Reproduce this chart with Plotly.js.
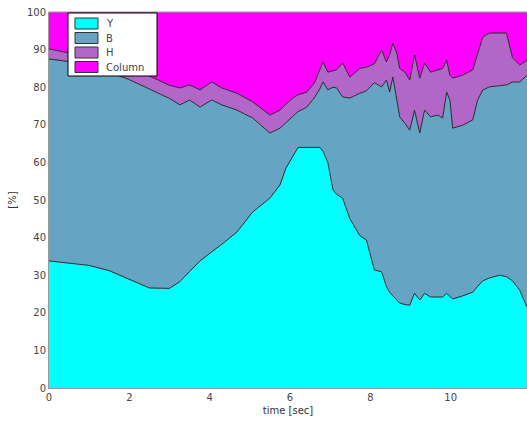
<!DOCTYPE html>
<html><head><meta charset="utf-8">
<script src="https://cdn.plot.ly/plotly-3.0.1.min.js"></script>
<style>html,body{margin:0;padding:0;background:#fff}#c{width:527px;height:430px}</style>
</head><body><div id="c"></div>
<script>
const time = [0,0.5,1.0,1.5,2.0,2.5,3.0,3.26,3.5,3.76,4.05,4.3,4.68,5.07,5.5,5.75,5.9,6.07,6.2,6.42,6.62,6.74,6.82,6.94,7.07,7.16,7.31,7.49,7.74,7.9,8.1,8.28,8.4,8.48,8.56,8.66,8.73,8.86,8.98,9.1,9.23,9.35,9.5,9.68,9.8,9.9,9.98,10.05,10.3,10.55,10.67,10.8,10.97,11.22,11.39,11.54,11.72,11.9];
const seriesY = [33.8,33.3,32.6,31.2,28.8,26.6,26.5,28.3,31.0,33.8,36.2,38.2,41.5,46.8,50.5,54.0,58.5,61.5,64.0,64.0,64.0,64.0,63.0,60.0,52.7,51.5,50.5,45.0,40.5,39.4,31.4,30.9,27.0,25.5,24.5,23.2,22.6,22.2,22.0,25.2,23.4,25.2,24.2,24.2,24.2,25.2,24.5,23.7,24.5,25.5,27.0,28.5,29.3,30.0,29.6,28.5,26.0,21.5];
const seriesB = [53.7,53.5,52.9,52.8,53.2,52.9,50.5,47.0,45.6,40.9,40.4,37.1,32.4,25.0,17.3,15.1,12.0,10.6,9.5,10.7,13.4,15.5,18.4,19.3,27.3,28.3,26.9,32.1,37.9,39.6,49.8,49.2,54.9,53.2,58.2,53.4,49.5,48.2,46.6,48.7,44.4,48.7,47.9,48.4,47.6,53.5,52.1,45.4,45.4,45.8,49.6,50.8,50.8,50.4,51.0,52.9,55.4,61.7];
const seriesH = [2.7,2.4,2.5,2.8,3.0,3.5,3.5,4.5,4.0,4.6,4.8,4.5,4.5,4.3,4.8,4.8,5.0,5.0,4.5,4.0,4.0,5.0,5.3,4.7,4.3,4.8,9.0,5.6,6.6,6.3,5.0,9.8,4.8,9.9,9.0,12.4,12.9,13.6,13.3,14.7,14.6,12.5,11.9,12.0,13.2,8.5,6.6,13.3,13.3,13.3,12.4,14.1,14.3,14.0,13.8,6.4,4.5,4.0];
const seriesColumn = [9.8,10.8,12.0,13.2,15.0,17.0,19.5,20.2,19.4,20.7,18.6,20.2,21.6,23.9,27.4,26.1,24.5,22.9,22.0,21.3,18.6,15.5,13.3,16.0,15.7,15.4,13.6,17.3,15.0,14.7,13.8,10.1,13.3,11.4,8.3,11.0,15.0,16.0,18.1,11.4,17.6,13.6,16.0,15.4,15.0,12.8,16.8,17.6,16.8,15.4,11.0,6.6,5.6,5.6,5.6,12.2,14.1,12.8];
const names = ['Y','B','H','Column'];
const colors = ['#00ffff','#66a4c4','#b266c8','#ff00ff'];
const vals = [seriesY, seriesB, seriesH, seriesColumn];

const traces = vals.map((v,i)=>({
  x: time, y: v, name: names[i], type:'scatter', mode:'lines',
  stackgroup:'one', fillcolor: colors[i], showlegend:false,
  line:{color: i===3 ? 'rgba(0,0,0,0)' : '#2a2a2a', width:1, shape:'linear'}
}));

// custom compact legend (pixel positions converted to paper coords)
const L=49, W=478, B0=388, H=376;
const px = p => (p-L)/W, py = p => (B0-p)/H;
const shapes = [
  {type:'line', xref:'paper', yref:'paper', x0:0, x1:1, y0:1, y1:1, line:{color:'#999', width:1}},
  {type:'rect', xref:'paper', yref:'paper', x0:px(68), x1:px(157), y0:py(76), y1:py(13), fillcolor:'#fff', line:{color:'#000', width:1}}
];
const annotations = [];
names.forEach((n,i)=>{
  const top = 18 + i*14.5;
  shapes.push({type:'rect', xref:'paper', yref:'paper', x0:px(75), x1:px(98), y0:py(top+11), y1:py(top),
    fillcolor:colors[i], line:{color:'#333', width:1}});
  annotations.push({xref:'paper', yref:'paper', x:px(104), y:py(top+5.5), xanchor:'left', yanchor:'middle',
    text:n, showarrow:false, font:{family:'DejaVu Sans, sans-serif', size:10, color:'#444'}});
});

const layout = {
  width:527, height:430,
  margin:{l:49, r:0, t:12, b:42},
  paper_bgcolor:'#fff', plot_bgcolor:'#fff',
  showlegend:false,
  xaxis:{range:[0,11.9], tickvals:[0,2,4,6,8,10], ticktext:['0','2','4','6','8','10'], showgrid:false, zeroline:false,
    showline:true, linecolor:'#999', ticks:'', tickfont:{family:'DejaVu Sans, sans-serif', size:10, color:'#444'},
    title:{text:'time [sec]', font:{family:'DejaVu Sans, sans-serif', size:10, color:'#333'}, standoff:4}},
  yaxis:{range:[0,100], tickvals:[0,10,20,30,40,50,60,70,80,90,100], showgrid:false, zeroline:false,
    showline:true, linecolor:'#999', mirror:false, ticks:'', tickfont:{family:'DejaVu Sans, sans-serif', size:10, color:'#444'},
    title:{text:'[%]', font:{family:'DejaVu Sans, sans-serif', size:10, color:'#333'}, standoff:8}},
  shapes: shapes,
  annotations: annotations
};
Plotly.newPlot('c', traces, layout, {displayModeBar:false, staticPlot:true});
</script></body></html>
